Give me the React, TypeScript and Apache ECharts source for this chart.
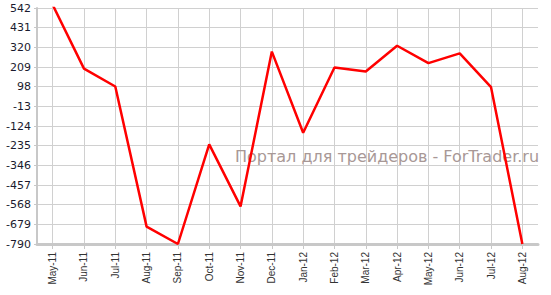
import React, { useEffect, useRef } from "react";
import * as echarts from "echarts";

const categories = [
  "May-11", "Jun-11", "Jul-11", "Aug-11", "Sep-11", "Oct-11", "Nov-11", "Dec-11",
  "Jan-12", "Feb-12", "Mar-12", "Apr-12", "May-12", "Jun-12", "Jul-12", "Aug-12",
];
const values = [560, 200, 99, -692, -790, -228, -578, 296, -162, 206, 184, 329, 231, 286, 95, -790];
const yMin = -790;
const yMax = 542;
const yStep = 111;
const watermark = "Портал для трейдеров - ForTrader.ru";

export default function App() {
  const ref = useRef<HTMLDivElement>(null);
  useEffect(() => {
    if (!ref.current) return;
    const chart = echarts.init(ref.current, null, { renderer: "svg" });
    chart.setOption({
      animation: false,
      backgroundColor: "#ffffff",
      grid: { left: 37, right: 13, top: 8, bottom: 51, containLabel: false },
      xAxis: {
        type: "category",
        data: categories,
        boundaryGap: true,
        axisLine: { show: true, lineStyle: { color: "#c8c8c8", width: 3 } },
        axisTick: { show: true, alignWithLabel: true, length: 5, lineStyle: { color: "#c8c8c8", width: 1 } },
        splitLine: { show: true, alignWithLabel: true, lineStyle: { color: "#d0d0d0", width: 1 } },
        axisLabel: {
          rotate: 90,
          margin: 8,
          fontFamily: "Liberation Sans, Arial, sans-serif",
          fontSize: 10,
          color: "#333333",
        },
      },
      yAxis: {
        type: "value",
        min: 0,
        max: yMax - yMin,
        interval: yStep,
        axisLine: { show: true, lineStyle: { color: "#c8c8c8", width: 2 } },
        axisTick: { show: true, length: 3, lineStyle: { color: "#c8c8c8" } },
        splitLine: { show: true, lineStyle: { color: "#d0d0d0", width: 1 } },
        axisLabel: {
          margin: 6,
          fontFamily: "DejaVu Sans, Verdana, sans-serif",
          fontSize: 11,
          color: "#1a1a2e",
          formatter: (v: number) => String(Math.round(v + yMin)),
        },
      },
      graphic: [
        {
          type: "text",
          left: 235,
          top: 148,
          z: 1,
          style: {
            text: watermark,
            font: "16px 'DejaVu Sans', Verdana, sans-serif",
            fill: "#a89896",
          },
        },
      ],
      series: [
        {
          type: "line",
          data: values.map((v) => v - yMin),
          showSymbol: false,
          symbol: "none",
          z: 5,
          lineStyle: { color: "#ff0000", width: 2.5 },
          clip: true,
        },
      ],
    });
    return () => chart.dispose();
  }, []);
  return (
    <div
      ref={ref}
      style={{ position: "fixed", left: 0, top: 0, width: 551, height: 295 }}
    />
  );
}
